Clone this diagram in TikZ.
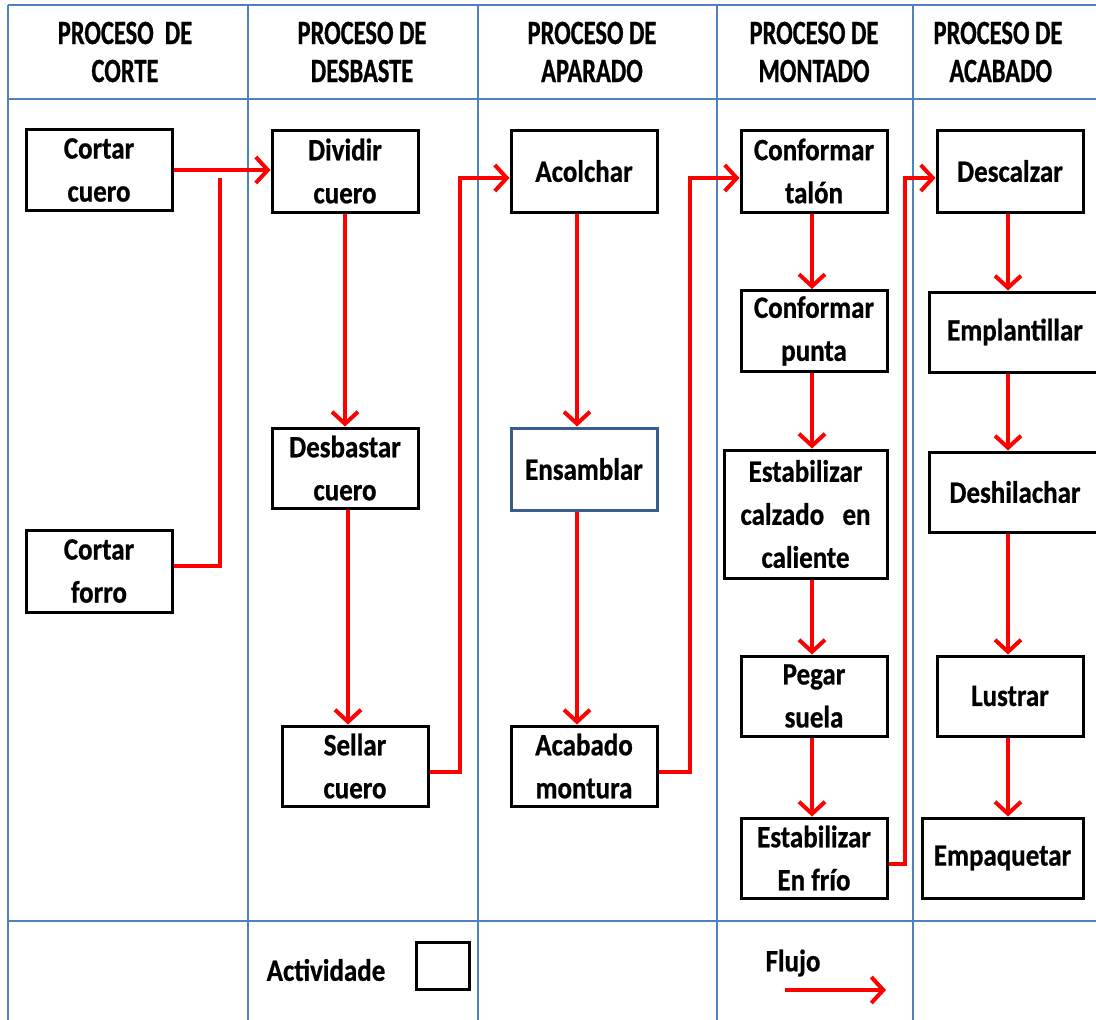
\documentclass[tikz,border=0pt]{standalone}
\usepackage{fontspec}
\setmainfont{Carlito}[FakeStretch=0.87,FakeBold=0.7]
\newfontfamily\hdrfont{Carlito}[FakeStretch=0.72,FakeBold=0.7]
\usetikzlibrary{arrows.meta}
\definecolor{gridblue}{HTML}{4F81BD}
\definecolor{flowred}{HTML}{FF0000}
\definecolor{slate}{HTML}{385D8A}
\begin{document}
\begin{tikzpicture}[x=1pt,y=-1pt,
  gridline/.style={draw=gridblue, line width=1.6pt},
  head/.style={font=\hdrfont\bfseries\fontsize{34}{38}\selectfont, align=center, inner sep=0pt},
  act/.style={draw=black, fill=white, line width=3pt, minimum width=146pt, minimum height=81pt,
              inner sep=0pt, align=center, font=\bfseries\fontsize{31}{43}\selectfont},
  legend/.style={font=\bfseries\fontsize{31}{43}\selectfont, inner sep=0pt},
  flow/.style={draw=flowred, line width=4pt, -{Straight Barb[length=12pt,width=26pt]}},
  link/.style={draw=flowred, line width=4pt},
]
\useasboundingbox (0,0) rectangle (1096,1020);
\clip (0,0) rectangle (1096,1020);

% table frame
\draw[gridline] (8,5) -- (1096,5);
\draw[gridline] (8,99) -- (1096,99);
\draw[gridline] (8,921) -- (1096,921);
\foreach \xx in {8,248,478,717,913}
  \draw[gridline] (\xx,5) -- (\xx,1020);

% column headings
\node[head] (h1) at (125,52) {PROCESO\ \ DE\\CORTE};
\node[head] (h2) at (362,52) {PROCESO DE\\DESBASTE};
\node[head] (h3) at (592,52) {PROCESO DE\\APARADO};
\node[head] (h4) at (814,52) {PROCESO DE\\MONTADO};
\node[head] (h5) at (998,52) {PROCESO DE\\\ ACABADO};

% activities
\node[act] (cortarcuero) at (99,170) {Cortar\\cuero};
\node[act, minimum height=82pt] (cortarforro) at (99,571) {Cortar\\forro};

\node[act, minimum height=82pt] (dividir) at (345,171) {Dividir\\cuero};
\node[act, minimum height=80pt] (desbastar) at (345,468) {Desbastar\\cuero};
\node[act, minimum height=80pt] (sellar) at (355,766) {Sellar\\cuero};

\node[act, minimum height=82pt] (acolchar) at (584,171) {Acolchar};
\node[act, draw=slate, minimum height=82pt] (ensamblar) at (584,469) {Ensamblar};
\node[act, minimum height=80pt] (acabado) at (584,766) {Acabado\\montura};

\node[act, minimum height=82pt] (talon) at (814,171) {Conformar\\tal\'on};
\node[act] (punta) at (814,331) {Conformar\\punta};
\node[act, minimum width=163pt, minimum height=128pt] (caliente) at (805.5,514) {Estabilizar\\calzado\ \ \ en\\caliente};
\node[act, minimum height=80pt] (pegar) at (814,696) {Pegar\\suela};
\node[act, minimum height=80pt] (enfrio) at (814,858) {Estabilizar\\En fr\'io};

\node[act, minimum height=82pt] (descalzar) at (1010,171) {Descalzar};
\node[act, minimum width=172pt, minimum height=80pt] (emplantillar) at (1015,332) {Emplantillar};
\node[act, minimum width=172pt, minimum height=80pt] (deshilachar) at (1015,492) {Deshilachar};
\node[act, minimum height=80pt] (lustrar) at (1010,696) {Lustrar};
\node[act, minimum width=161pt, minimum height=80pt] (empaquetar) at (1002.5,858) {Empaquetar};

% flow: corte -> desbaste
\coordinate (merge) at (220,178);
\draw[flow] (cortarcuero.east) -- (dividir.west |- cortarcuero.east);
\draw[link] (cortarforro.east |- 0,566) -| (merge);

% flow: desbaste
\draw[flow] (dividir.south -| 345,0) -- (desbastar.north -| 345,0);
\draw[flow] (desbastar.south -| 348,0) -- (sellar.north -| 348,0);
\draw[flow] (sellar.east |- 0,772) -| (460,178) -- (acolchar.west |- 0,178);

% flow: aparado
\draw[flow] (acolchar.south -| 577,0) -- (ensamblar.north -| 577,0);
\draw[flow] (ensamblar.south -| 577,0) -- (acabado.north -| 577,0);
\draw[flow] (acabado.east |- 0,772) -| (690,178) -- (talon.west |- 0,178);

% flow: montado
\draw[flow] (talon.south -| 812,0) -- (punta.north -| 812,0);
\draw[flow] (punta.south -| 812,0) -- (caliente.north -| 812,0);
\draw[flow] (caliente.south -| 812,0) -- (pegar.north -| 812,0);
\draw[flow] (pegar.south -| 812,0) -- (enfrio.north -| 812,0);
\draw[flow] (enfrio.east |- 0,864) -| (905,178) -- (descalzar.west |- 0,178);

% flow: acabado
\draw[flow] (descalzar.south -| 1008,0) -- (emplantillar.north -| 1008,0);
\draw[flow] (emplantillar.south -| 1008,0) -- (deshilachar.north -| 1008,0);
\draw[flow] (deshilachar.south -| 1008,0) -- (lustrar.north -| 1008,0);
\draw[flow] (lustrar.south -| 1008,0) -- (empaquetar.north -| 1008,0);

% legend
\node[legend] (actlabel) at (326,970) {Actividade};
\node[draw=black, line width=3pt, minimum width=53pt, minimum height=47pt, inner sep=0pt] (actsample) at (443,966) {};
\node[legend] (flowlabel) at (793,963) {Flujo};
\coordinate (flowstart) at (785,990);
\coordinate (flowend) at (886,990);
\draw[flow] (flowstart) -- (flowend);
\end{tikzpicture}
\end{document}
